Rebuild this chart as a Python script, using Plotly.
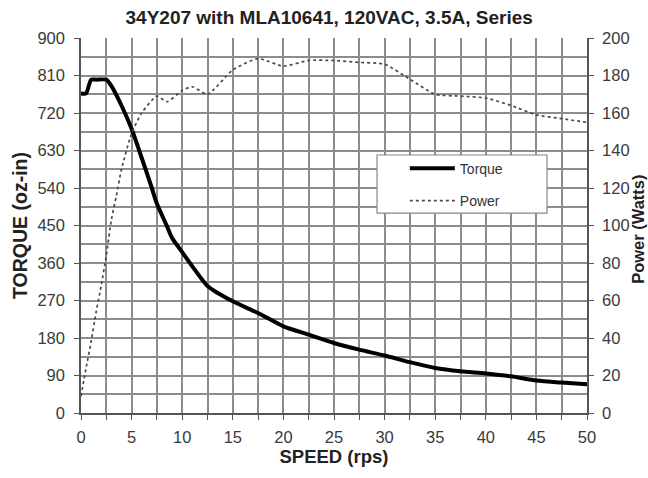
import plotly.graph_objects as go

title_text = "34Y207 with MLA10641, 120VAC, 3.5A, Series"
power_axis_title = "Power (Watts)"

speed_torque = [0, 0.5, 1.0, 1.5, 2.5, 3, 4, 5, 6, 7, 7.5, 8.5, 9, 10, 11, 12.5, 15, 17.5, 20, 22.5, 25, 27.5, 30, 32.5, 35, 37.5, 40, 42.5, 45, 47.5, 50]
torque = [767, 767, 800, 800, 800, 785, 738, 682, 612, 540, 502, 448, 420, 386, 352, 305, 268, 240, 208, 188, 168, 152, 138, 122, 108, 100, 95, 88, 78, 73, 69]

speed_power = [0, 0.5, 1, 1.5, 2, 2.5, 3, 3.5, 4, 5, 6, 7.5, 8.5, 10, 11, 12.5, 15, 17.5, 20, 22.5, 25, 27.5, 30, 32.5, 35, 37.5, 40, 42.5, 45, 47.5, 50]
power = [9, 24, 38, 54, 68, 84, 103, 116, 130, 149, 160, 169, 166, 172, 174, 170, 183, 189, 185, 188, 188, 187, 186, 178, 170, 169, 168, 164, 159, 157, 155]

torque_ticks = list(range(0, 901, 90))
power_ticks = list(range(0, 201, 20))
speed_ticks = list(range(0, 51, 5))

FONT = "Liberation Sans, Arial, sans-serif"

fig = go.Figure()
fig.add_trace(go.Scatter(x=speed_torque, y=torque, name="Torque", mode="lines", legendgroup="t",
                         line=dict(color="black", width=4, shape="spline", smoothing=0.6)))
fig.add_trace(go.Scatter(x=speed_power, y=power, name="Power", mode="lines", yaxis="y2", legendgroup="p",
                         line=dict(color="#4a4a4a", width=1.7, dash="dot", shape="spline", smoothing=0.6)))

grid = "#8c8c8c"
axc = "#555555"
tickfont = dict(family=FONT, size=16.5, color="#3a3a3a")

# legend frame (paper coordinates)
fig.add_shape(type="rect", xref="paper", yref="paper", x0=0.585, x1=0.921, y0=0.533, y1=0.688,
              fillcolor="white", line=dict(color="#888888", width=1.2), layer="above")

# right axis title
fig.add_annotation(text="<b>" + power_axis_title + "</b>", xref="paper", yref="paper", x=1.102, y=0.49,
                   xanchor="center", yanchor="middle", textangle=-90, showarrow=False,
                   font=dict(family=FONT, size=16.5, color="#222222"))

fig.update_layout(
    width=648, height=478,
    margin=dict(l=81, r=61, t=38, b=65, autoexpand=False),
    paper_bgcolor="white", plot_bgcolor="white",
    title=dict(text="<b>" + title_text + "</b>", x=0.508, xanchor="center", y=0.964, yanchor="middle",
               font=dict(family=FONT, size=19, color="#222222")),
    showlegend=True,
    legend=dict(x=0.64, y=0.694, xanchor="left", yanchor="top", bgcolor="rgba(0,0,0,0)",
                borderwidth=0, traceorder="grouped", tracegroupgap=11,
                font=dict(family=FONT, size=14, color="#333333"),
                itemwidth=45),
    xaxis=dict(range=[0, 50], tickvals=speed_ticks, ticks="outside", ticklen=5, tickcolor=axc,
               showline=True, linecolor=axc, linewidth=1.5, automargin=False,
               showgrid=True, gridcolor=grid, gridwidth=1.5,
               minor=dict(dtick=2.5, showgrid=True, gridcolor=grid, gridwidth=1.5, ticks="outside", ticklen=5, tickcolor=axc),
               tickfont=tickfont, zeroline=False, ticklabelstandoff=3,
               title=dict(text="<b>SPEED (rps)</b>", font=dict(family=FONT, size=18.5, color="#222222"), standoff=2)),
    yaxis=dict(range=[0, 900], tickvals=torque_ticks, ticks="outside", ticklen=5, tickcolor=axc,
               showline=True, linecolor=axc, linewidth=1.5, automargin=False,
               showgrid=True, gridcolor=grid, gridwidth=1.5,
               minor=dict(dtick=45, showgrid=True, gridcolor=grid, gridwidth=1.5),
               tickfont=tickfont, zeroline=False, ticklabelstandoff=6,
               title=dict(text="<b>TORQUE (oz-in)</b>", font=dict(family=FONT, size=19.5, color="#222222"), standoff=5)),
    yaxis2=dict(range=[0, 200], tickvals=power_ticks, overlaying="y", side="right",
                ticks="outside", ticklen=5, tickcolor=axc, automargin=False,
                showline=True, linecolor=axc, linewidth=1.5, showgrid=False, zeroline=False,
                tickfont=tickfont, ticklabelstandoff=5),
)

fig.write_html("out.html", config={"displayModeBar": False},
               post_script="document.body.style.margin='0';document.body.style.overflow='hidden';")
